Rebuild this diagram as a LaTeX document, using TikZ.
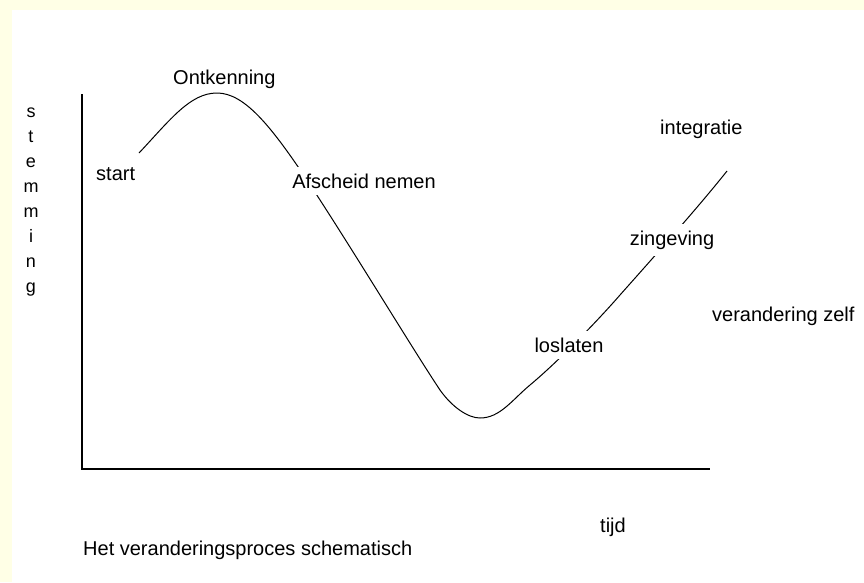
\documentclass[tikz,border=0pt]{standalone}
\usepackage{fontspec}
\setmainfont{Liberation Sans}
\definecolor{marginyellow}{HTML}{FFFFE6}
\begin{document}
\begin{tikzpicture}[x=1pt,y=-1pt,
  lbl/.style={font=\fontsize{20}{24}\selectfont, inner sep=0pt, anchor=base west},
  cut/.style={font=\fontsize{20}{24}\selectfont, fill=white, inner sep=6.5pt, anchor=base},
  vlet/.style={font=\fontsize{18}{20}\selectfont, inner sep=0pt, anchor=base},
  axisline/.style={line width=1.6pt, black},
  mood/.style={line width=1pt, black}]

% page and margins
\fill[marginyellow] (0,0) rectangle (864,582);
\fill[white] (12,10) rectangle (864,582);
\useasboundingbox (0,0) rectangle (864,582);

% axes
\coordinate (ytop) at (82,94);
\coordinate (origin) at (82,469);
\coordinate (xend) at (710,469);
\draw[axisline] (ytop) -- (origin) -- (xend);

% mood curve
\coordinate (cstart) at (139,153);
\coordinate (cpeak) at (217,93);
\coordinate (cmin) at (480,418);
\coordinate (cend) at (727,171);
\draw[mood] (cstart) .. controls (170,120) and (190,93) .. (cpeak)
  .. controls (244,93) and (270,125) .. (305,177)
  .. controls (350,245) and (412,348) .. (440,390)
  .. controls (452,407) and (468,418) .. (cmin)
  .. controls (500,418) and (512,400) .. (530,385)
  .. controls (560,360) and (600,318) .. (620,295)
  .. controls (660,250) and (700,205) .. (cend);

% labels that interrupt the curve
\node[cut] (afscheid) at (364,188) {Afscheid nemen};
\node[cut] (zingeving) at (672,245) {zingeving};
\node[cut] (loslaten) at (569,352) {loslaten};

% other labels
\node[lbl] (ontkenning) at (173,84) {Ontkenning};
\node[lbl] (start) at (96,180) {start};
\node[lbl] (integratie) at (660,134) {integratie};
\node[lbl] (zelf) at (712,321) {verandering zelf};
\node[lbl] (tijd) at (600,532) {tijd};
\node[lbl] (caption) at (83,555) {Het veranderingsproces schematisch};

% vertical axis label
\foreach \ch [count=\i from 0] in {s,t,e,m,m,i,n,g} {
  \node[vlet] (st\i) at (31,117+25*\i) {\ch};
}
\end{tikzpicture}
\end{document}
